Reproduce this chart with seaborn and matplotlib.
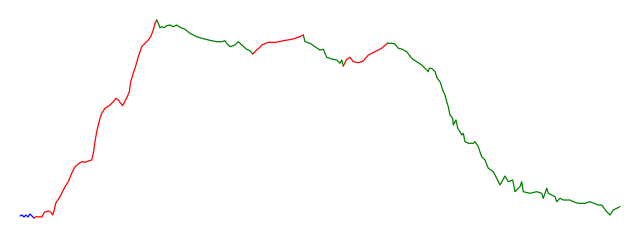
import matplotlib
matplotlib.use("Agg")
import matplotlib.pyplot as plt
import seaborn as sns
import pandas as pd

sns.set_style("white")

# day index and value
days = [0, 2, 4, 6, 8, 10, 12, 14,
        16, 22, 24.3, 28.3, 30.7, 32.7, 34.3, 35.7, 40, 45, 48.3, 51.7, 55, 58.3, 61.7, 65, 68.3, 71.7,
        73.3, 75, 76.7, 80, 81.7, 85, 90, 93.3, 96, 98.3, 100, 102.7, 105, 107.3, 109.3, 110.7, 112.7,
        116, 118.3, 121.7, 125, 128.3, 130.7, 133.3, 135, 136.7,
        138.3, 140, 141.7, 144, 146.7, 150, 153.3, 156.7, 160, 165, 170, 176.7, 181.7, 190, 196.7,
        201.7, 205, 206.7, 210, 215, 218.3, 221.7, 226.7, 230, 232.7,
        236.7, 240, 241.7, 248.3, 256.7, 263.3, 271.7, 278.3, 283.3,
        285, 290, 295, 300, 303.3, 306.7, 311.7, 316.7, 320, 321.7, 323.3,
        326.7, 330, 333.3, 338.3, 343.3, 348.3, 355, 361.7, 367.3,
        371.7, 375, 378.3, 381.7, 386.7, 391.7, 396.7, 401.7, 405, 408.3, 409.3, 411.7, 415, 417.3,
        420, 423.3, 425, 426.7, 428.3, 430, 432.7, 433.3, 436, 437.7, 440, 441.7, 443.3, 445, 448.3,
        453.3, 455, 458.3, 460, 461.7, 465, 468.3, 473.3, 476.7, 480, 485, 488.3, 492.7, 495, 500,
        501.7, 503.3, 510, 516.7, 521.7, 523.3, 526.7, 528.3, 531.7, 535, 536.7, 540, 543.3, 550,
        553.3, 558.3, 565, 570, 578.3, 581.7, 586.7, 590, 593.3, 600]
values = [4, 5, 3, 5, 3, 6, 4, 2,
          3.3, 3, 7.7, 9, 8, 5, 10, 16.7, 23.3, 33.3, 38.3, 46.7, 53.3, 56, 58.3, 57.7, 59, 60,
          66.7, 78.3, 88.3, 101.7, 106.7, 111.7, 115, 118.3, 121.7, 120, 117.7, 114.3, 119, 123.3, 128.3, 138.3, 145,
          155, 163.3, 173.3, 176.7, 180, 183.3, 190, 196.7, 200,
          196.7, 192.3, 193.3, 192.3, 194.3, 195, 193.3, 195, 192.7, 190.7, 186.7, 183.3, 181.7, 179.7, 178.3,
          178.3, 179.3, 176.7, 173.3, 175, 178.3, 175, 170.7, 169.3, 166,
          170, 172.7, 175, 177.7, 177.7, 179.3, 180.7, 182.7, 185,
          178.3, 176.7, 173.3, 170, 170.7, 162.7, 161, 160, 156.7, 160, 154,
          160.7, 162.7, 158.3, 157.3, 159, 165, 168.3, 171.7, 176.7,
          176.7, 176, 171.7, 171, 168.3, 161.7, 158.3, 155, 151.7, 148.3, 151.7, 151.7, 148.3, 141.7,
          138.3, 128.3, 125, 118.3, 113.3, 105, 101.7, 95, 100, 91.7, 88.3, 85, 86.7, 78.3, 76.7,
          76.7, 78.3, 73.3, 68, 63.3, 60, 51.7, 48.3, 41.7, 35, 44, 38.3, 40, 28.3, 33.3,
          38.3, 28.3, 26.7, 28.3, 26.7, 21.7, 31.7, 26.7, 25, 23.3, 18.3, 21.7, 20, 20,
          18.3, 16.7, 16.7, 18.3, 15, 15, 8.3, 5, 10, 13.3]

# trend segments: each ends at the given day (last one runs to the end)
segment_ends = [14, 136.7, 232.7, 283.3, 323.3, 367.3, 600]
segment_trend = ["flat", "up", "down", "up", "down", "up", "down"]
trend_colors = {"flat": "blue", "up": "red", "down": "green"}

rows = []
start = days[0]
for i, (end, trend) in enumerate(zip(segment_ends, segment_trend)):
    for d, v in zip(days, values):
        if start <= d <= end:
            rows.append({"day": d, "value": v, "seg": i})
    # next segment starts at the point right after this end, bridged to the end point
    start = end
    if i == 0:
        # blue and first red segment are joined at the next sample
        start = end
df = pd.DataFrame(rows)

fig = plt.figure(figsize=(6.4, 2.4), dpi=100)
ax = fig.add_axes([0, 0, 1, 1])
palette = [trend_colors[t] for t in segment_trend]
sns.lineplot(data=df, x="day", y="value", hue="seg", palette=palette,
             estimator=None, sort=False, legend=False, linewidth=0.9, ax=ax)
ax.set_xlim(-20, 620)
ax.set_ylim(-20, 220)
ax.axis("off")
fig.savefig("out.png", dpi=100)
